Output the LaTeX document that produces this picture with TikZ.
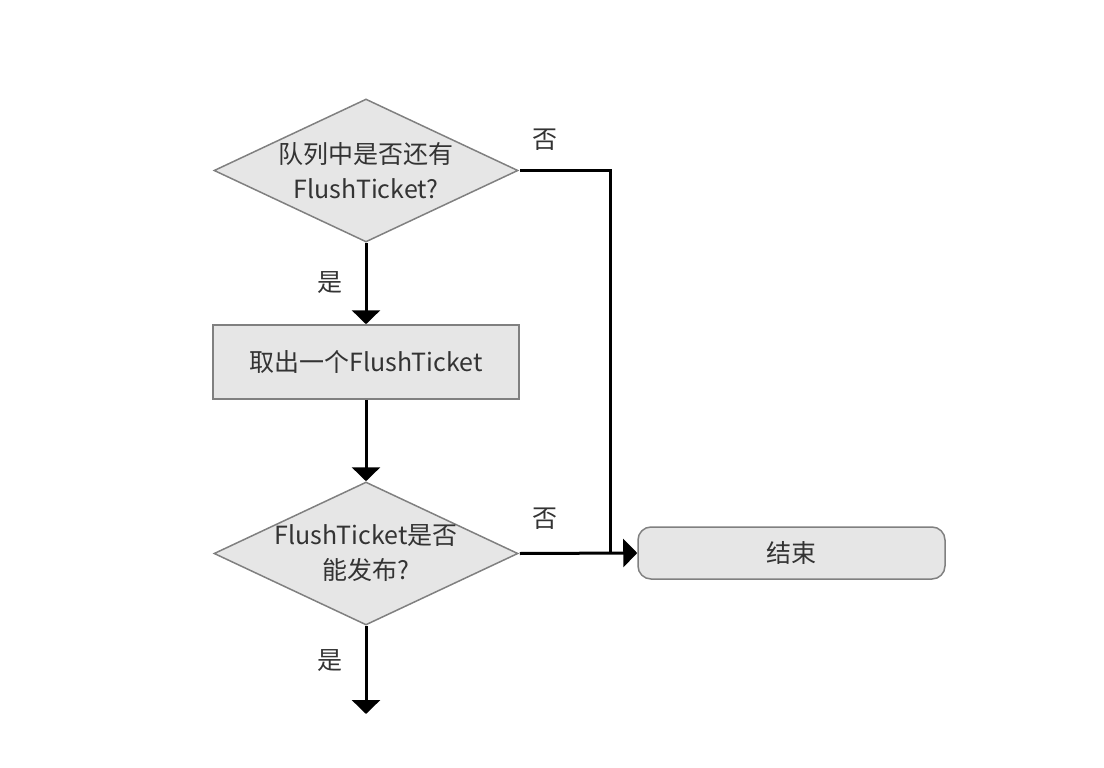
\documentclass[tikz,border=0pt]{standalone}
\usepackage{fontspec}
\setmainfont{Noto Sans CJK SC}
\usetikzlibrary{shapes.geometric,arrows.meta}
\definecolor{boxfill}{HTML}{E6E6E6}
\definecolor{boxline}{HTML}{808080}
\definecolor{txt}{HTML}{333333}
\tikzset{
  shapebox/.style={draw=boxline, fill=boxfill, line width=1.5pt},
  dia/.style={shapebox, diamond, inner sep=0pt, minimum width=304pt, minimum height=143pt},
  rectbox/.style={shapebox, rectangle, minimum width=306pt, minimum height=74pt, inner sep=0pt},
  endbox/.style={shapebox, rectangle, rounded corners=13pt, minimum width=307pt, minimum height=52pt, inner sep=0pt},
  lbl/.style={text=txt, font=\fontsize{25pt}{35pt}\selectfont, align=center, inner sep=0pt},
  conn/.style={line width=3pt, black},
  arr/.style={conn, -{Triangle[length=14pt,width=28pt]}}
}
\begin{document}
\begin{tikzpicture}[x=1pt,y=-1pt]
\useasboundingbox (0,0) rectangle (1104,768);
\node[dia] (d1) at (366,170.5) {};
\node[lbl] (d1t) at (366,171) {队列中是否还有\\FlushTicket?};
\node[rectbox] (r1) at (366,362) {};
\node[lbl] (r1t) at (366,362) {取出一个FlushTicket};
\node[dia] (d2) at (366,553.5) {};
\node[lbl] (d2t) at (366,553) {FlushTicket是否\\能发布?};
\node[endbox] (e) at (791.5,553) {};
\node[lbl] (et) at (791.5,553) {结束};
\coordinate (j) at (610,553);
\coordinate (bot) at (366,714);
\draw[arr] (d1.south) -- (r1.north);
\draw[arr] (r1.south) -- (d2.north);
\draw[arr] (d2.south) -- (bot);
\draw[conn] ([xshift=1pt]d1.east) -| (j);
\draw[arr] ([xshift=1pt]d2.east) -- (e.west);
\node[lbl] (y1) at (330,283) {是};
\node[lbl] (y2) at (330,661) {是};
\node[lbl] (n1) at (545,140) {否};
\node[lbl] (n2) at (545,519) {否};
\end{tikzpicture}
\end{document}
